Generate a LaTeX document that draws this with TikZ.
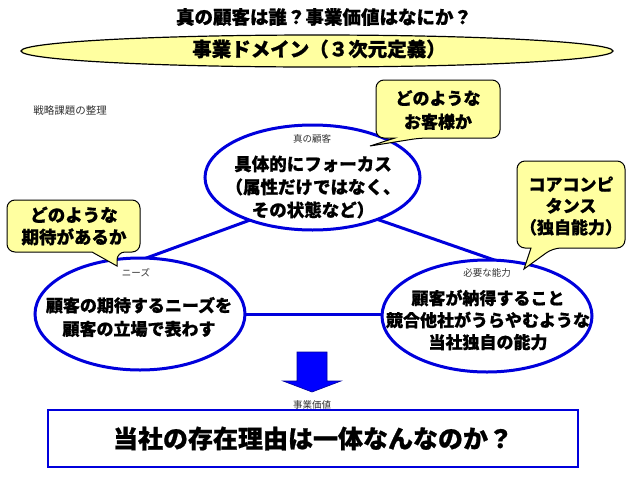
\documentclass[tikz,border=0pt]{standalone}
\usepackage{fontspec}
\setmainfont{Noto Sans CJK JP}[BoldFeatures={FakeBold=0.8}]
\definecolor{lineblue}{RGB}{0,0,220}
\definecolor{arrowblue}{RGB}{0,0,255}
\definecolor{calloutyellow}{RGB}{255,255,160}
\tikzset{
  bubble/.style={draw=lineblue, line width=3pt, fill=white},
  link/.style={draw=lineblue, line width=3pt},
  callout/.style={draw=black, line width=1pt, fill=calloutyellow},
  bigtext/.style={font=\fontsize{17}{23.5}\selectfont\bfseries, align=center, inner sep=0pt},
  smalllabel/.style={font=\fontsize{9.5}{11}\selectfont, inner sep=0pt, text=black!80},
}
\begin{document}
\begin{tikzpicture}[x=1pt,y=-1pt]
\useasboundingbox (0,0) rectangle (640,480);
\fill[white] (0,0) rectangle (640,480);

% title
\node[font=\fontsize{18.5}{20}\selectfont\bfseries, inner sep=0pt] (title) at (324,17) {真の顧客は誰？事業価値はなにか？};

% yellow ellipse
\draw[callout, line width=1.2pt] (317,51) ellipse [x radius=296, y radius=16];
\node[font=\fontsize{19.5}{21}\selectfont\bfseries, inner sep=0pt] (domain) at (319,49) {事業ドメイン（３次元定義）};

\node[smalllabel, font=\fontsize{10.5}{12}\selectfont] (issues) at (70,111) {戦略課題の整理};

% connecting lines
\coordinate (apex) at (313,197);
\coordinate (lv) at (130,264);
\coordinate (rv) at (500,262);
\coordinate (lc) at (140,314);
\coordinate (rc) at (487,314);
\draw[link] (lv) -- (apex) -- (rv);
\draw[link] (lc) -- (rc);

% ellipses
\draw[bubble] (312.5,177.5) ellipse [x radius=107.5, y radius=52.5];
\draw[bubble] (140,314) ellipse [x radius=105, y radius=56];
\draw[bubble] (487,316) ellipse [x radius=105, y radius=56];

\node[smalllabel] (lbl-c) at (312,139) {真の顧客};
\node[bigtext, font=\fontsize{17.5}{23}\selectfont\bfseries] (txt-c) at (313,187) {具体的にフォーカス\\（属性だけではなく、\\その状態など）};

\node[smalllabel] (lbl-l) at (136,273) {ニーズ};
\node[bigtext] (txt-l) at (139,317) {顧客の期待するニーズを\\顧客の立場で表わす};

\node[smalllabel] (lbl-r) at (487,273) {必要な能力};
\node[bigtext, font=\fontsize{17}{22}\selectfont\bfseries] (txt-r) at (488,320) {顧客が納得すること\\競合他社がうらやむような\\当社独自の能力};

% callouts
\draw[callout] (376,109) [rounded corners=8] -- (376,80) -- (500,80) -- (500,138) -- (420,138) [sharp corners] -- (370,146) -- (395,138) [rounded corners=8] -- (376,138) -- cycle;
\node[bigtext] (co-top) at (438,110) {どのような\\お客様か};

\draw[callout] (7,226) [rounded corners=8] -- (7,200) -- (140,200) -- (140,252) -- (117,252) [sharp corners] -- (117,266) -- (92,252) [rounded corners=8] -- (7,252) -- cycle;
\node[bigtext, font=\fontsize{17.5}{22}\selectfont\bfseries] (co-left) at (74,226) {どのような\\期待があるか};

\draw[callout] (517,205) [rounded corners=8] -- (517,161) -- (625,161) -- (625,248) -- (553,248) [sharp corners] -- (524,269) -- (531,248) [rounded corners=8] -- (517,248) -- cycle;
\node[bigtext, font=\fontsize{17}{21.5}\selectfont\bfseries] (co-right) at (571,206) {コアコンピ\\タンス\\（独自能力）};

% arrow
\draw[fill=arrowblue, draw=blue!60!black, line width=0.6pt] (297,352) -- (327,352) -- (327,381) -- (341,381) -- (312,392) -- (283,381) -- (297,381) -- cycle;
\node[smalllabel] (lbl-v) at (312,405) {事業価値};

% bottom box
\node[draw=lineblue, line width=2.5pt, fill=white, minimum width=530pt, minimum height=57pt, inner sep=0pt,
      font=\fontsize{25}{27}\selectfont\bfseries] (reason) at (313,438.5) {当社の存在理由は一体なんなのか？};
\end{tikzpicture}
\end{document}
